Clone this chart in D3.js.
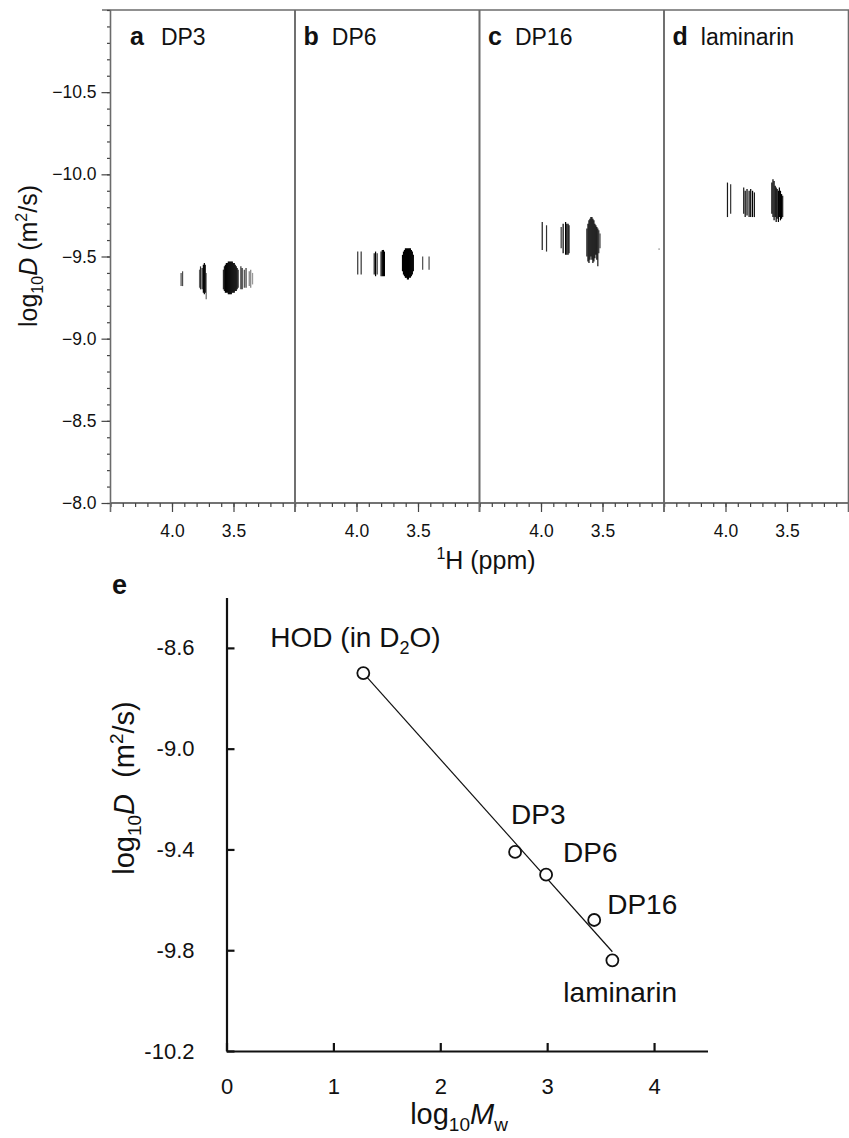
<!DOCTYPE html>
<html>
<head>
<meta charset="utf-8">
<script src="https://cdn.jsdelivr.net/npm/d3@7"></script>
<style>
  body { margin: 0; background: #fff; }
  svg { display: block; }
  text { font-family: "Liberation Sans", Arial, Helvetica, sans-serif; fill: #111; }
</style>
</head>
<body>
<svg id="fig" width="849" height="1138"></svg>
<script>
/* ******************** data ************************* */
// top DOSY panels
var panelLetters = ["a", "b", "c", "d"];
var panelNames = ["DP3", "DP6", "DP16", "laminarin"];
var dosyLogDTicks = [-10.5, -10.0, -9.5, -9.0, -8.5, -8.0];
var ppmTicks = [4.0, 3.5];

// peaks: [ppm, logD top, logD bottom, intensity]
var peaksDP3 = [
  [3.926, -9.40, -9.32, 0.7], [3.914, -9.41, -9.32, 0.7],
  [3.776, -9.42, -9.31, 0.6], [3.768, -9.44, -9.30, 0.8], [3.755, -9.43, -9.30, 0.9],
  [3.745, -9.45, -9.28, 1], [3.737, -9.46, -9.27, 1], [3.730, -9.45, -9.28, 1], [3.722, -9.40, -9.24, 0.6],
  [3.582, -9.42, -9.30, 0.8], [3.574, -9.44, -9.29, 0.9], [3.566, -9.45, -9.28, 1], [3.558, -9.46, -9.28, 1],
  [3.550, -9.46, -9.28, 1], [3.542, -9.47, -9.27, 1], [3.534, -9.47, -9.27, 1], [3.526, -9.47, -9.27, 1],
  [3.518, -9.47, -9.27, 1], [3.510, -9.47, -9.28, 1], [3.502, -9.46, -9.28, 1], [3.494, -9.46, -9.28, 1],
  [3.486, -9.45, -9.29, 1], [3.478, -9.44, -9.29, 1], [3.470, -9.43, -9.30, 0.9], [3.462, -9.42, -9.31, 0.8],
  [3.440, -9.44, -9.30, 0.8], [3.430, -9.43, -9.30, 0.9], [3.412, -9.42, -9.31, 0.7], [3.398, -9.43, -9.31, 0.8],
  [3.372, -9.41, -9.32, 0.5], [3.360, -9.42, -9.31, 0.5], [3.345, -9.40, -9.33, 0.4]
];
var peaksDP6 = [
  [3.990, -9.53, -9.39, 0.8], [3.962, -9.53, -9.39, 0.8],
  [3.856, -9.52, -9.39, 0.9], [3.845, -9.53, -9.38, 1], [3.832, -9.52, -9.39, 0.8],
  [3.800, -9.53, -9.38, 1], [3.790, -9.54, -9.38, 1], [3.781, -9.54, -9.38, 1], [3.773, -9.53, -9.38, 1],
  [3.626, -9.51, -9.41, 1], [3.618, -9.53, -9.39, 1], [3.610, -9.54, -9.38, 1], [3.602, -9.55, -9.37, 1],
  [3.594, -9.55, -9.37, 1], [3.586, -9.55, -9.36, 1], [3.578, -9.55, -9.36, 1], [3.570, -9.55, -9.37, 1],
  [3.562, -9.55, -9.37, 1], [3.554, -9.54, -9.38, 1], [3.546, -9.53, -9.39, 1], [3.538, -9.51, -9.41, 1],
  [3.462, -9.50, -9.42, 0.7], [3.410, -9.50, -9.42, 0.7]
];
var peaksDP16 = [
  [3.990, -9.71, -9.54, 0.9], [3.955, -9.69, -9.53, 0.8],
  [3.836, -9.68, -9.55, 0.8], [3.820, -9.70, -9.52, 1], [3.800, -9.71, -9.51, 1],
  [3.790, -9.70, -9.51, 1], [3.780, -9.70, -9.51, 1], [3.772, -9.69, -9.52, 0.9],
  [3.627, -9.67, -9.50, 0.9], [3.618, -9.70, -9.47, 1], [3.610, -9.72, -9.46, 1], [3.602, -9.73, -9.48, 1],
  [3.594, -9.74, -9.50, 1], [3.586, -9.74, -9.48, 1], [3.578, -9.73, -9.46, 1], [3.570, -9.72, -9.47, 1],
  [3.562, -9.70, -9.49, 1], [3.554, -9.69, -9.51, 1], [3.546, -9.68, -9.48, 1], [3.538, -9.67, -9.44, 0.9],
  [3.530, -9.66, -9.52, 0.8], [3.520, -9.64, -9.55, 0.7],
  [3.040, -9.55, -9.54, 0.4]
];
var peaksLaminarin = [
  [3.984, -9.95, -9.74, 0.9], [3.958, -9.94, -9.76, 0.8],
  [3.852, -9.92, -9.76, 0.9], [3.840, -9.90, -9.74, 1], [3.825, -9.91, -9.75, 1], [3.808, -9.90, -9.74, 1],
  [3.795, -9.91, -9.74, 1], [3.780, -9.90, -9.74, 1], [3.765, -9.89, -9.74, 0.9],
  [3.623, -9.95, -9.76, 1], [3.614, -9.97, -9.74, 1], [3.605, -9.96, -9.72, 1], [3.596, -9.93, -9.74, 1],
  [3.588, -9.92, -9.71, 1], [3.580, -9.91, -9.73, 1], [3.570, -9.90, -9.71, 1], [3.562, -9.92, -9.74, 1],
  [3.553, -9.90, -9.72, 1], [3.544, -9.88, -9.73, 1], [3.535, -9.87, -9.74, 0.9]
];
var panelPeaks = [peaksDP3, peaksDP6, peaksDP16, peaksLaminarin];

// panel e: log10 D vs log10 Mw
var sampleNames = ["HOD", "DP3", "DP6", "DP16", "laminarin"];
var sampleLogMw = [1.28, 2.70, 2.99, 3.44, 3.61];
var sampleLogD = [-8.70, -9.41, -9.50, -9.68, -9.84];
var fitLogMw = [1.28, 3.61];
var fitLogD = [-8.70, -9.806];
var eTicksY = [-8.6, -9.0, -9.4, -9.8, -10.2];
var eTicksX = [0, 1, 2, 3, 4];


/* ******************** top panels a-d ************************* */
var svg = d3.select("#fig");
var frameColor = "#6b6b6b";

var yTop = d3.scaleLinear().domain([-11, -8]).range([10, 503]);
var panelLeft = 110.5, panelW = 184.5;

var gTop = svg.append("g");

// top frame line and bottom axis line
gTop.append("line")
    .attr("x1", 102).attr("x2", 849)
    .attr("y1", yTop(-11)).attr("y2", yTop(-11))
    .attr("stroke", frameColor).attr("stroke-width", 1.6);
gTop.append("line")
    .attr("x1", panelLeft).attr("x2", 849)
    .attr("y1", yTop(-8)).attr("y2", yTop(-8))
    .attr("stroke", "#444").attr("stroke-width", 1.4);

// y axis: minor then major
var yMinor = gTop.append("g")
    .attr("transform", "translate(" + panelLeft + ",0)")
    .call(d3.axisLeft(yTop).tickValues(yTop.ticks(30)).tickSize(3.5).tickFormat(""));
var yMajor = gTop.append("g")
    .attr("transform", "translate(" + panelLeft + ",0)")
    .call(d3.axisLeft(yTop).tickValues(dosyLogDTicks).tickSize(9).tickPadding(5)
          .tickFormat(d3.format(".1f")));
gTop.selectAll(".domain").remove();
yMajor.selectAll("text").attr("font-size", 17.5).attr("fill", "#111");
gTop.selectAll(".tick line").attr("stroke", "#444").attr("stroke-width", 1.2);

// y label
var yLab = gTop.append("text")
    .attr("transform", "translate(37,256) rotate(-90)")
    .attr("text-anchor", "middle")
    .attr("font-size", 25);
yLab.append("tspan").text("log");
yLab.append("tspan").text("10").attr("font-size", 16).attr("dy", 6);
yLab.append("tspan").text("D").attr("font-style", "italic").attr("dy", -6);
yLab.append("tspan").text(" (m");
yLab.append("tspan").text("2").attr("font-size", 16).attr("dy", -10);
yLab.append("tspan").text("/s)").attr("dy", 10);

panelPeaks.forEach(function(peaks, i) {
  var x0 = panelLeft + i * panelW;
  var xPpm = d3.scaleLinear().domain([4.5, 3.0]).range([x0, x0 + panelW]);
  var g = gTop.append("g");

  g.append("g")
    .attr("transform", "translate(0," + yTop(-8) + ")")
    .call(d3.axisBottom(xPpm).tickValues(xPpm.ticks(15)).tickSize(4).tickFormat(""));
  var xMaj = g.append("g")
    .attr("transform", "translate(0," + yTop(-8) + ")")
    .call(d3.axisBottom(xPpm).tickValues(ppmTicks).tickSize(9).tickPadding(13)
          .tickFormat(d3.format(".1f")));
  g.selectAll(".domain").remove();
  xMaj.selectAll("text").attr("font-size", 17.5).attr("fill", "#111");
  g.selectAll(".tick line").attr("stroke", "#444").attr("stroke-width", 1.2);

  // panel separators (both edges)
  [x0, x0 + panelW].forEach(function(xs) {
    g.append("line")
      .attr("x1", xs).attr("x2", xs)
      .attr("y1", yTop(-11)).attr("y2", yTop(-8) + 9)
      .attr("stroke", frameColor).attr("stroke-width", 1.6);
  });

  // peaks
  g.selectAll("line.peak")
    .data(peaks)
    .enter()
    .append("line")
      .attr("class", "peak")
      .attr("x1", function(d) { return xPpm(d[0]); })
      .attr("x2", function(d) { return xPpm(d[0]); })
      .attr("y1", function(d) { return yTop(d[1]); })
      .attr("y2", function(d) { return yTop(d[2]); })
      .attr("stroke", "#000")
      .attr("stroke-opacity", function(d) { return d[3]; })
      .attr("stroke-width", 1.2);

  // panel labels
  var lx = (i === 0) ? 130 : x0 + 8.5;
  var t = g.append("text").attr("x", lx).attr("y", 45).attr("font-size", 23);
  t.append("tspan").text(panelLetters[i]).attr("font-weight", "bold").attr("font-size", 25);
  t.append("tspan").text(panelNames[i]).attr("dx", i === 0 ? 17 : 13);
});

// x label
var xLab = gTop.append("text")
    .attr("x", 486).attr("y", 569)
    .attr("text-anchor", "middle")
    .attr("font-size", 25);
xLab.append("tspan").text("1").attr("font-size", 16).attr("dy", -10);
xLab.append("tspan").text("H (ppm)").attr("dy", 10);


/* ******************** panel e ************************* */
var xE = d3.scaleLinear().domain([0, 4.5]).range([226.5, 707.5]);
var yE = d3.scaleLinear().domain([-10.2, -8.4]).range([1051, 597.5]);
var gE = svg.append("g");
var hyphen = function(d) { return d3.format(".1f")(d).replace("\u2212", "-"); };

var yAxE = gE.append("g")
    .attr("transform", "translate(" + xE(0) + ",0)")
    .call(d3.axisLeft(yE).tickValues(eTicksY).tickSize(-8).tickSizeOuter(0).tickPadding(32)
          .tickFormat(hyphen));
var xAxE = gE.append("g")
    .attr("transform", "translate(0," + yE(-10.2) + ")")
    .call(d3.axisBottom(xE).tickValues(eTicksX).tickSize(-8).tickSizeOuter(0).tickPadding(27)
          .tickFormat(d3.format("d")));
gE.selectAll(".domain").attr("stroke", "#111").attr("stroke-width", 2.2);
gE.selectAll(".tick line").attr("stroke", "#111").attr("stroke-width", 2.2);
gE.selectAll(".tick text").attr("font-size", 22).attr("fill", "#111");

// fit line
var fitPts = fitLogMw.map(function(v, k) { return [v, fitLogD[k]]; });
gE.append("path")
    .datum(fitPts)
    .attr("fill", "none")
    .attr("stroke", "#111")
    .attr("stroke-width", 1.2)
    .attr("d", d3.line()
      .x(function(d) { return xE(d[0]); })
      .y(function(d) { return yE(d[1]); }));

// sample points
gE.selectAll("circle")
    .data(sampleNames)
    .enter()
    .append("circle")
      .attr("cx", function(d, k) { return xE(sampleLogMw[k]); })
      .attr("cy", function(d, k) { return yE(sampleLogD[k]); })
      .attr("r", 6)
      .attr("fill", "#fff")
      .attr("stroke", "#111")
      .attr("stroke-width", 1.8);

// point labels, nudged off the points
var labelNudge = [[-93, -26], [-4, -28], [17, -12.5], [13, -5.5], [-49, 42]];
sampleNames.forEach(function(name, k) {
  var t = gE.append("text")
    .attr("x", xE(sampleLogMw[k]) + labelNudge[k][0])
    .attr("y", yE(sampleLogD[k]) + labelNudge[k][1])
    .attr("font-size", 28);
  if (name === "HOD") {
    t.append("tspan").text("HOD (in D");
    t.append("tspan").text("2").attr("font-size", 18).attr("dy", 7);
    t.append("tspan").text("O)").attr("dy", -7);
  } else {
    t.text(name);
  }
});

// panel letter
gE.append("text").attr("x", 112).attr("y", 594)
    .attr("font-size", 27).attr("font-weight", "bold").text("e");

// axis titles
var yLabE = gE.append("text")
    .attr("transform", "translate(134,788) rotate(-90)")
    .attr("text-anchor", "middle")
    .attr("font-size", 29);
yLabE.append("tspan").text("log");
yLabE.append("tspan").text("10").attr("font-size", 19).attr("dy", 7);
yLabE.append("tspan").text("D").attr("font-style", "italic").attr("dy", -7);
yLabE.append("tspan").text("\u00a0 (m");
yLabE.append("tspan").text("2").attr("font-size", 19).attr("dy", -11);
yLabE.append("tspan").text("/s)").attr("dy", 11);

var xLabE = gE.append("text")
    .attr("x", 459).attr("y", 1124)
    .attr("text-anchor", "middle")
    .attr("font-size", 29);
xLabE.append("tspan").text("log");
xLabE.append("tspan").text("10").attr("font-size", 19).attr("dy", 7);
xLabE.append("tspan").text("M").attr("font-style", "italic").attr("dy", -7);
xLabE.append("tspan").text("w").attr("font-size", 19).attr("dy", 7);
</script>
</body>
</html>
